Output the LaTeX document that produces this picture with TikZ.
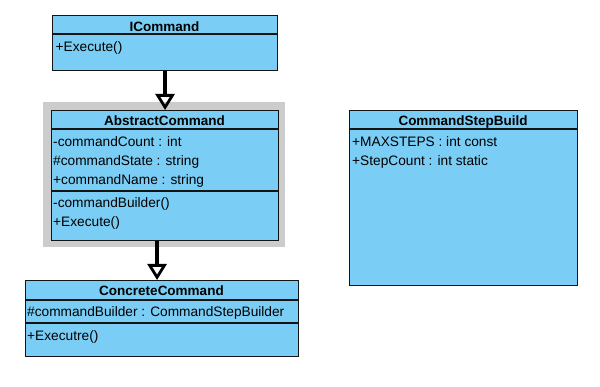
\documentclass[tikz,border=0pt]{standalone}
\usepackage{fontspec}
\setmainfont{Liberation Sans}
\usetikzlibrary{arrows.meta}
\definecolor{classfill}{HTML}{7ACDF4}
\definecolor{shade}{HTML}{CCCCCC}
\definecolor{edge}{HTML}{141414}
\tikzset{
  classbox/.style={rectangle, draw=edge, fill=classfill, line width=1.1pt, inner sep=0pt, anchor=north west},
  shadebox/.style={rectangle, fill=shade, inner sep=0pt, anchor=north west},
  rule/.style={draw=edge, line width=1.1pt},
  classname/.style={font=\fontsize{13.5}{16}\selectfont\bfseries, anchor=base, inner sep=0pt},
  member/.style={font=\fontsize{13.7}{16}\selectfont, anchor=base west, inner sep=0pt},
  inherit/.style={draw=black, line width=3.2pt, -{Triangle[open, length=16pt, width=19pt, line width=2.8pt]}},
}

\begin{document}
\begin{tikzpicture}[x=1pt, y=-1pt]
  \useasboundingbox (0,0) rectangle (600,387);

  % interface
  \node[classbox, minimum width=225pt, minimum height=55pt] (icmd) at (52,15) {};
  \draw[rule] ([yshift=-19pt]icmd.north west) -- ([yshift=-19pt]icmd.north east);
  \node[classname] (icmd-name) at (164.5,31.5) {ICommand};
  \node[member] (icmd-op1) at (55.5,52) {+Execute()};

  % abstract base, selected
  \node[shadebox, minimum width=242pt, minimum height=145pt] (abs-shade) at (43,102) {};
  \node[classbox, minimum width=227pt, minimum height=130pt] (abs) at (51,110) {};
  \draw[rule] ([yshift=-19pt]abs.north west) -- ([yshift=-19pt]abs.north east);
  \draw[rule] ([yshift=-81pt]abs.north west) -- ([yshift=-81pt]abs.north east);
  \node[classname] (abs-name) at (164.5,126) {AbstractCommand};
  \node[member] (abs-at1) at (53,147) {-commandCount : int};
  \node[member] (abs-at2) at (53,166) {\#commandState : string};
  \node[member] (abs-at3) at (53,185) {+commandName : string};
  \node[member] (abs-op1) at (53,208) {-commandBuilder()};
  \node[member] (abs-op2) at (53,227) {+Execute()};

  % concrete subclass
  \node[classbox, minimum width=273pt, minimum height=76pt] (conc) at (25,280) {};
  \draw[rule] ([yshift=-20pt]conc.north west) -- ([yshift=-20pt]conc.north east);
  \draw[rule] ([yshift=-43pt]conc.north west) -- ([yshift=-43pt]conc.north east);
  \node[classname] (conc-name) at (161.5,295.5) {ConcreteCommand};
  \node[member] (conc-at1) at (27,317) {\#commandBuilder : CommandStepBuilder};
  \node[member] (conc-op1) at (27,341) {+Executre()};

  % builder
  \node[classbox, minimum width=228pt, minimum height=175pt] (stp) at (349,110) {};
  \draw[rule] ([yshift=-19pt]stp.north west) -- ([yshift=-19pt]stp.north east);
  \node[classname] (stp-name) at (463,126) {CommandStepBuild};
  \node[member] (stp-at1) at (352,146.5) {+MAXSTEPS : int const};
  \node[member] (stp-at2) at (352,165.5) {+StepCount : int static};

  % generalisations
  \draw[inherit] (icmd.south) -- (abs.north);
  \draw[inherit] ([xshift=-8pt]abs.south) -- ([xshift=-8pt]abs.south |- conc.north);
\end{tikzpicture}
\end{document}
